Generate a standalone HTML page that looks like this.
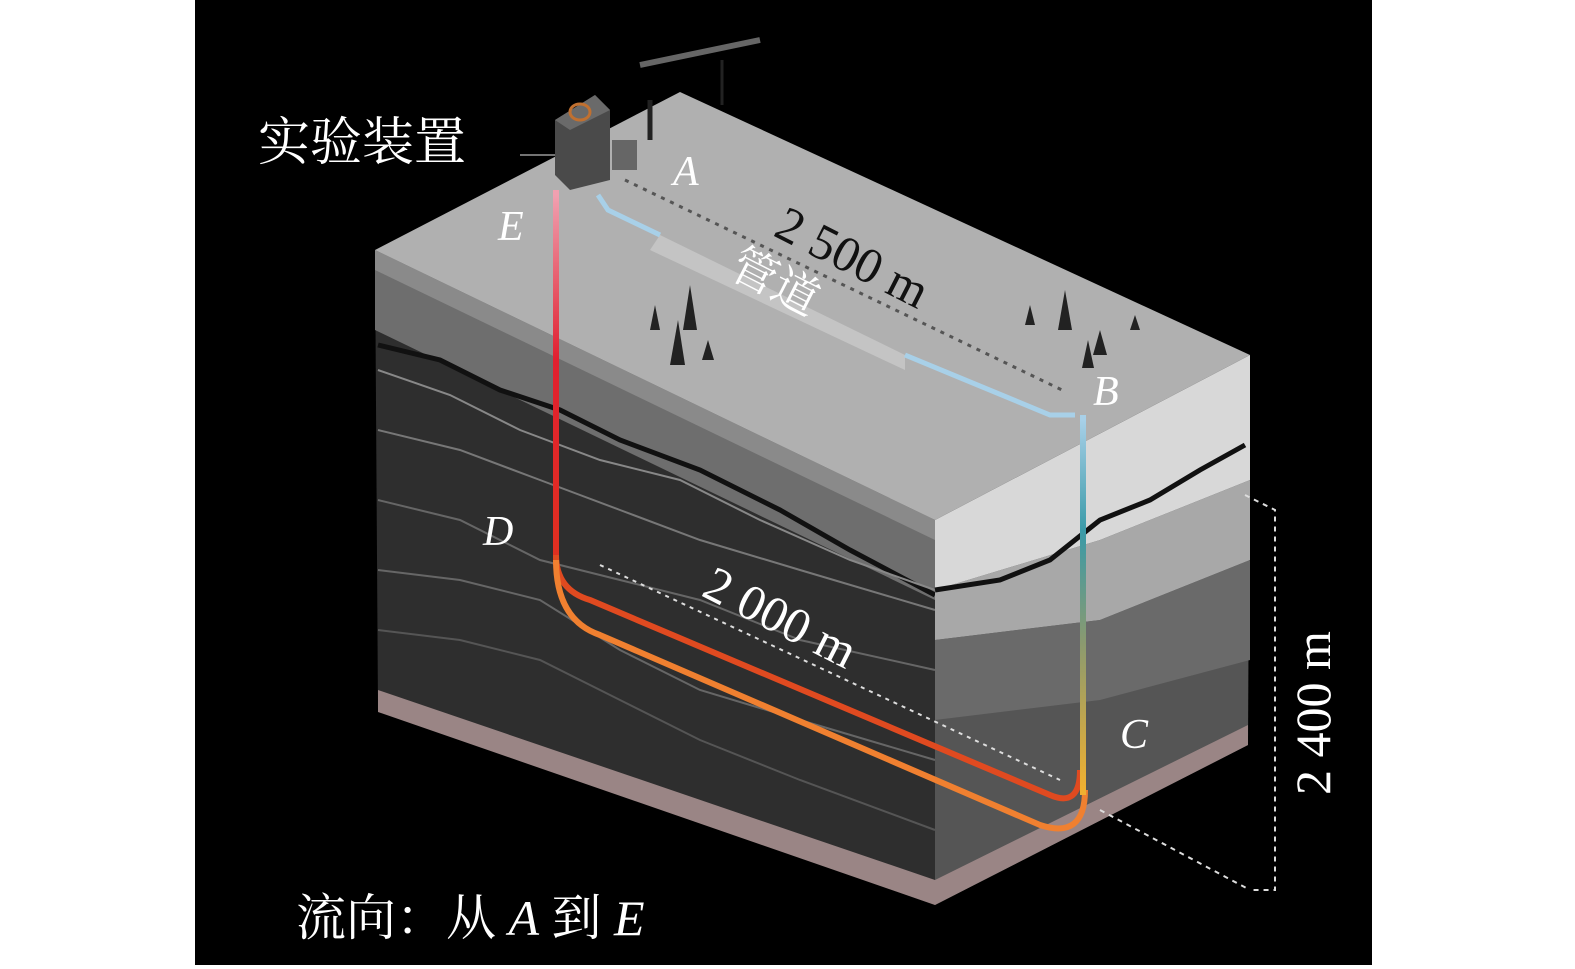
<!DOCTYPE html>
<html><head><meta charset="utf-8"><style>
html,body{margin:0;padding:0;background:#fff;width:1575px;height:969px;overflow:hidden}
svg{display:block}
</style></head><body>
<svg width="1575" height="969" viewBox="0 0 1575 969" xmlns="http://www.w3.org/2000/svg">
<defs>
<linearGradient id="rp" gradientUnits="userSpaceOnUse" x1="0" y1="195" x2="0" y2="560">
<stop offset="0" stop-color="#f0a0b0"/><stop offset="0.45" stop-color="#e02030"/><stop offset="1" stop-color="#e03020"/></linearGradient>
<linearGradient id="bp" gradientUnits="userSpaceOnUse" x1="0" y1="420" x2="0" y2="790">
<stop offset="0" stop-color="#a8d0e8"/><stop offset="0.3" stop-color="#3a9aa8"/><stop offset="0.6" stop-color="#8a9a70"/><stop offset="1" stop-color="#f0b030"/></linearGradient>
</defs>
<rect x="195" y="0" width="1177" height="965" fill="#000"/>
<!-- left face -->
<polygon points="375,250 935,520 935,905 378,710" fill="#2e2e2e"/>
<polygon points="378,690 935,880 935,905 378,712" fill="#9a8585"/>
<polygon points="375,250 935,520 935,600 375,330" fill="#6e6e6e"/>
<polygon points="375,250 935,520 935,540 375,270" fill="#8a8a8a"/>
<g fill="none" stroke-width="2">
<path d="M378,345 L440,360 L500,390 L560,410 L620,440 L700,470 L780,510 L850,550 L935,595" stroke="#111" stroke-width="5"/>
<path d="M378,370 L450,395 L520,430 L600,460 L680,480 L760,520 L850,560 L935,590" stroke="#888"/>
<path d="M378,430 L460,450 L540,480 L620,510 L700,540 L800,570 L935,610" stroke="#777"/>
<path d="M378,500 L460,520 L540,560 L620,580 L700,600 L800,640 L935,670" stroke="#666"/>
<path d="M378,570 L460,580 L540,600 L620,650 L700,690 L800,720 L935,760" stroke="#666"/>
<path d="M378,630 L460,640 L540,660 L620,700 L700,740 L800,780 L935,830" stroke="#555"/>
</g>
<!-- right face -->
<polygon points="935,520 1250,355 1248,745 935,905" fill="#555"/>
<polygon points="935,520 1250,355 1250,480 1100,540 935,590" fill="#d8d8d8"/>
<polygon points="935,590 1100,540 1250,480 1250,560 1100,620 935,640" fill="#a8a8a8"/>
<polygon points="935,640 1100,620 1250,560 1250,660 1100,700 935,720" fill="#6a6a6a"/>
<polygon points="935,880 1248,725 1248,745 935,905" fill="#9a8585"/>
<path d="M935,590 L1000,580 L1050,560 L1100,520 L1150,500 L1200,470 L1245,445" fill="none" stroke="#111" stroke-width="5"/>
<!-- top face -->
<polygon points="375,250 680,92 1250,355 935,520" fill="#b0b0b0"/>
<polygon points="660,235 905,355 905,370 650,250" fill="#c4c4c4"/>
<!-- device -->
<polygon points="555,120 595,95 610,110 610,180 570,190 555,175" fill="#4a4a4a"/>
<polygon points="555,120 595,95 610,110 570,130" fill="#6a6a6a"/>
<ellipse cx="580" cy="112" rx="10" ry="8" fill="none" stroke="#c07030" stroke-width="3"/>
<rect x="612" y="140" width="25" height="30" fill="#666"/>
<line x1="650" y1="100" x2="650" y2="140" stroke="#222" stroke-width="5"/>
<line x1="640" y1="65" x2="760" y2="40" stroke="#666" stroke-width="6"/>
<line x1="722" y1="60" x2="722" y2="105" stroke="#222" stroke-width="3"/>
<line x1="520" y1="155" x2="555" y2="155" stroke="#999" stroke-width="1.5"/>
<line x1="625" y1="180" x2="1062" y2="390" stroke="#555" stroke-width="3" stroke-dasharray="4,6"/>
<path d="M598,195 L608,210 L660,235 M905,355 L1050,415 L1075,415" fill="none" stroke="#a8d0e8" stroke-width="5"/>
<g fill="#222">
<polygon points="655,305 660,330 650,330"/><polygon points="690,285 697,330 683,330"/><polygon points="678,320 685,365 670,365"/><polygon points="708,340 714,360 702,360"/>
<polygon points="1030,305 1035,325 1025,325"/><polygon points="1065,290 1072,330 1058,330"/><polygon points="1100,330 1107,355 1093,355"/><polygon points="1088,340 1094,368 1082,368"/><polygon points="1135,315 1140,330 1130,330"/>
</g>
<!-- pipes -->
<line x1="556" y1="190" x2="556" y2="565" stroke="url(#rp)" stroke-width="6"/>
<path d="M556,555 Q556,590 590,600 L1050,795 Q1080,808 1080,770" fill="none" stroke="#e04a20" stroke-width="6"/>
<path d="M556,560 Q556,620 600,635 L1040,825 Q1085,840 1085,790" fill="none" stroke="#f08030" stroke-width="6"/>
<line x1="1083" y1="415" x2="1083" y2="795" stroke="url(#bp)" stroke-width="6"/>
<line x1="600" y1="565" x2="1060" y2="780" stroke="#ddd" stroke-width="2" stroke-dasharray="4,5"/>
<path d="M1245,495 L1275,510 L1275,890 L1250,890 M1100,810 L1250,890" fill="none" stroke="#ddd" stroke-width="2" stroke-dasharray="5,5"/>
<g font-family="'Liberation Serif','Noto Serif CJK SC',serif" fill="#fff">
<text x="258" y="160" font-size="52">实验装置</text>
<text x="673" y="185" font-size="42" font-style="italic">A</text>
<text x="498" y="240" font-size="42" font-style="italic">E</text>
<text x="1093" y="405" font-size="42" font-style="italic">B</text>
<text x="483" y="545" font-size="42" font-style="italic">D</text>
<text x="1120" y="748" font-size="42" font-style="italic">C</text>
<text transform="translate(772,235) rotate(27)" font-size="50" fill="#111">2 500 m</text>
<text transform="translate(727,275) rotate(27)" font-size="46">管道</text>
<text transform="translate(700,595) rotate(27)" font-size="50">2 000 m</text>
<text transform="translate(1330,795) rotate(-90)" font-size="50">2 400 m</text>
<text x="296" y="935" font-size="50">流向：从 <tspan font-style="italic">A</tspan> 到 <tspan font-style="italic">E</tspan></text>
</g>
</svg>
</body></html>
